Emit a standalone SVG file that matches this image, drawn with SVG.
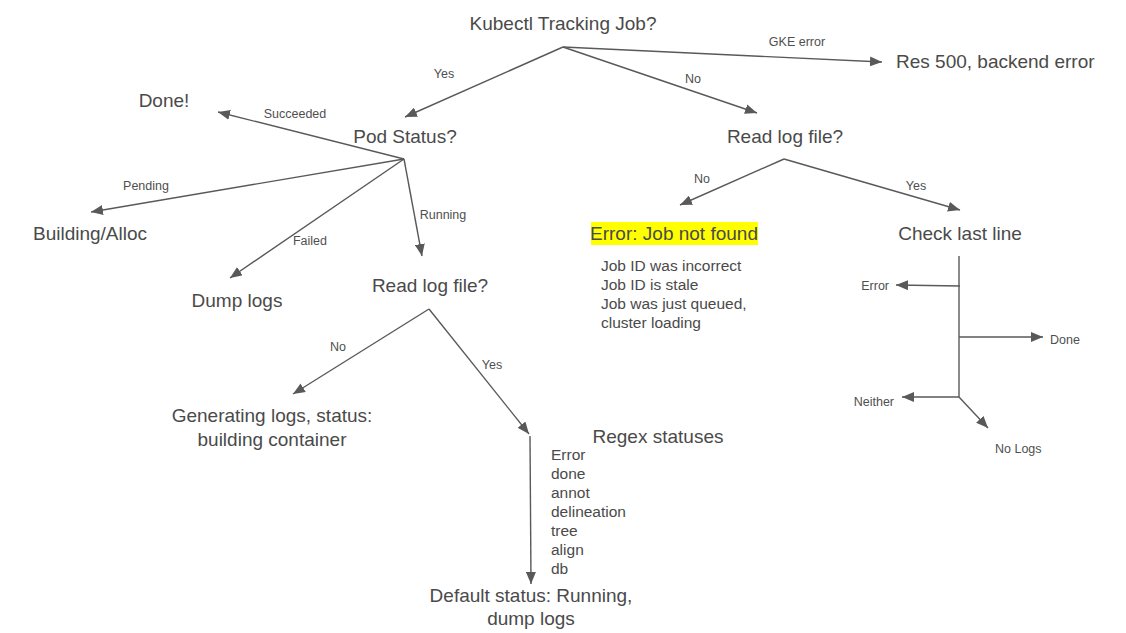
<svg xmlns="http://www.w3.org/2000/svg" width="1126" height="633" viewBox="0 0 1126 633">
<defs>
<marker id="ah" viewBox="0 0 12 10" refX="12" refY="5" markerWidth="12" markerHeight="10" markerUnits="userSpaceOnUse" orient="auto">
<path d="M0,0 L12,5 L0,10 Z" fill="#595959"/>
</marker>
<style>
text{font-family:"Liberation Sans",Arial,sans-serif;fill:#4a4a4a}
.big{font-size:19px}
.lbl{font-size:12.5px;fill:#4f4f4f}
.lst{font-size:15.5px}
.c{stroke:#595959;stroke-width:1.4;fill:none}
.a{marker-end:url(#ah)}
</style>
</defs>
<rect width="1126" height="633" fill="#ffffff"/>
<g id="connectors">
<line class="c a" x1="563" y1="47" x2="405" y2="117"/>
<line class="c a" x1="563" y1="47" x2="757" y2="113"/>
<line class="c a" x1="563" y1="47" x2="882" y2="62"/>
<line class="c a" x1="404" y1="159" x2="218" y2="112"/>
<line class="c a" x1="404" y1="159" x2="91" y2="212"/>
<line class="c a" x1="404" y1="159" x2="230" y2="278"/>
<line class="c a" x1="404" y1="159" x2="422" y2="256"/>
<line class="c a" x1="429" y1="309" x2="293" y2="394"/>
<line class="c a" x1="429" y1="309" x2="529" y2="434"/>
<line class="c a" x1="530" y1="436" x2="531" y2="584"/>
<line class="c a" x1="784" y1="159" x2="680" y2="205"/>
<line class="c a" x1="784" y1="159" x2="960" y2="210"/>
<line class="c" x1="959" y1="256" x2="959" y2="397"/>
<line class="c a" x1="960" y1="286" x2="896" y2="285"/>
<line class="c a" x1="959" y1="337" x2="1043" y2="337"/>
<line class="c a" x1="959" y1="397" x2="902" y2="397"/>
<line class="c a" x1="959" y1="397" x2="988" y2="428"/>
<text class="lbl" x="444" y="78" text-anchor="middle">Yes</text>
<text class="lbl" x="693" y="83" text-anchor="middle">No</text>
<text class="lbl" x="797" y="46" text-anchor="middle">GKE error</text>
<text class="lbl" x="295" y="118" text-anchor="middle">Succeeded</text>
<text class="lbl" x="146" y="190" text-anchor="middle">Pending</text>
<text class="lbl" x="310" y="245" text-anchor="middle">Failed</text>
<text class="lbl" x="443" y="219" text-anchor="middle">Running</text>
<text class="lbl" x="338" y="351" text-anchor="middle">No</text>
<text class="lbl" x="492" y="369" text-anchor="middle">Yes</text>
<text class="lbl" x="702" y="183" text-anchor="middle">No</text>
<text class="lbl" x="916" y="190" text-anchor="middle">Yes</text>
<text class="lbl" x="889" y="290" text-anchor="end">Error</text>
<text class="lbl" x="1050" y="344">Done</text>
<text class="lbl" x="894" y="406" text-anchor="end">Neither</text>
<text class="lbl" x="995" y="453">No Logs</text>
</g>
<g id="n-kubectl"><text class="big" x="563" y="30" text-anchor="middle">Kubectl Tracking Job?</text></g>
<g id="n-res500"><text class="big" x="896" y="68">Res 500, backend error</text></g>
<g id="n-podstatus"><text class="big" x="405" y="143" text-anchor="middle">Pod Status?</text></g>
<g id="n-done"><text class="big" x="164" y="107" text-anchor="middle">Done!</text></g>
<g id="n-building"><text class="big" x="90" y="240" text-anchor="middle">Building/Alloc</text></g>
<g id="n-dumplogs"><text class="big" x="237" y="307" text-anchor="middle">Dump logs</text></g>
<g id="n-readlog-left"><text class="big" x="430" y="292" text-anchor="middle">Read log file?</text></g>
<g id="n-generating"><text class="big" text-anchor="middle"><tspan x="272" y="422">Generating logs, status:</tspan><tspan x="272" y="446">building container</tspan></text></g>
<g id="n-regex">
<text class="big" x="658" y="443" text-anchor="middle">Regex statuses</text>
<text class="lst"><tspan x="551" y="460">Error</tspan><tspan x="551" y="479">done</tspan><tspan x="551" y="498">annot</tspan><tspan x="551" y="517">delineation</tspan><tspan x="551" y="536">tree</tspan><tspan x="551" y="555">align</tspan><tspan x="551" y="574">db</tspan></text>
</g>
<g id="n-default"><text class="big" text-anchor="middle"><tspan x="531" y="602">Default status: Running,</tspan><tspan x="531" y="625">dump logs</tspan></text></g>
<g id="n-readlog-right"><text class="big" x="785" y="143" text-anchor="middle">Read log file?</text></g>
<g id="n-jobnotfound">
<rect x="591" y="222" width="167" height="23" fill="#ffff00"/>
<text class="big" x="674" y="240" text-anchor="middle">Error: Job not found</text>
<text class="lst"><tspan x="601" y="271">Job ID was incorrect</tspan><tspan x="601" y="290">Job ID is stale</tspan><tspan x="601" y="309">Job was just queued,</tspan><tspan x="601" y="328">cluster loading</tspan></text>
</g>
<g id="n-checklast"><text class="big" x="960" y="240" text-anchor="middle">Check last line</text></g>
</svg>
